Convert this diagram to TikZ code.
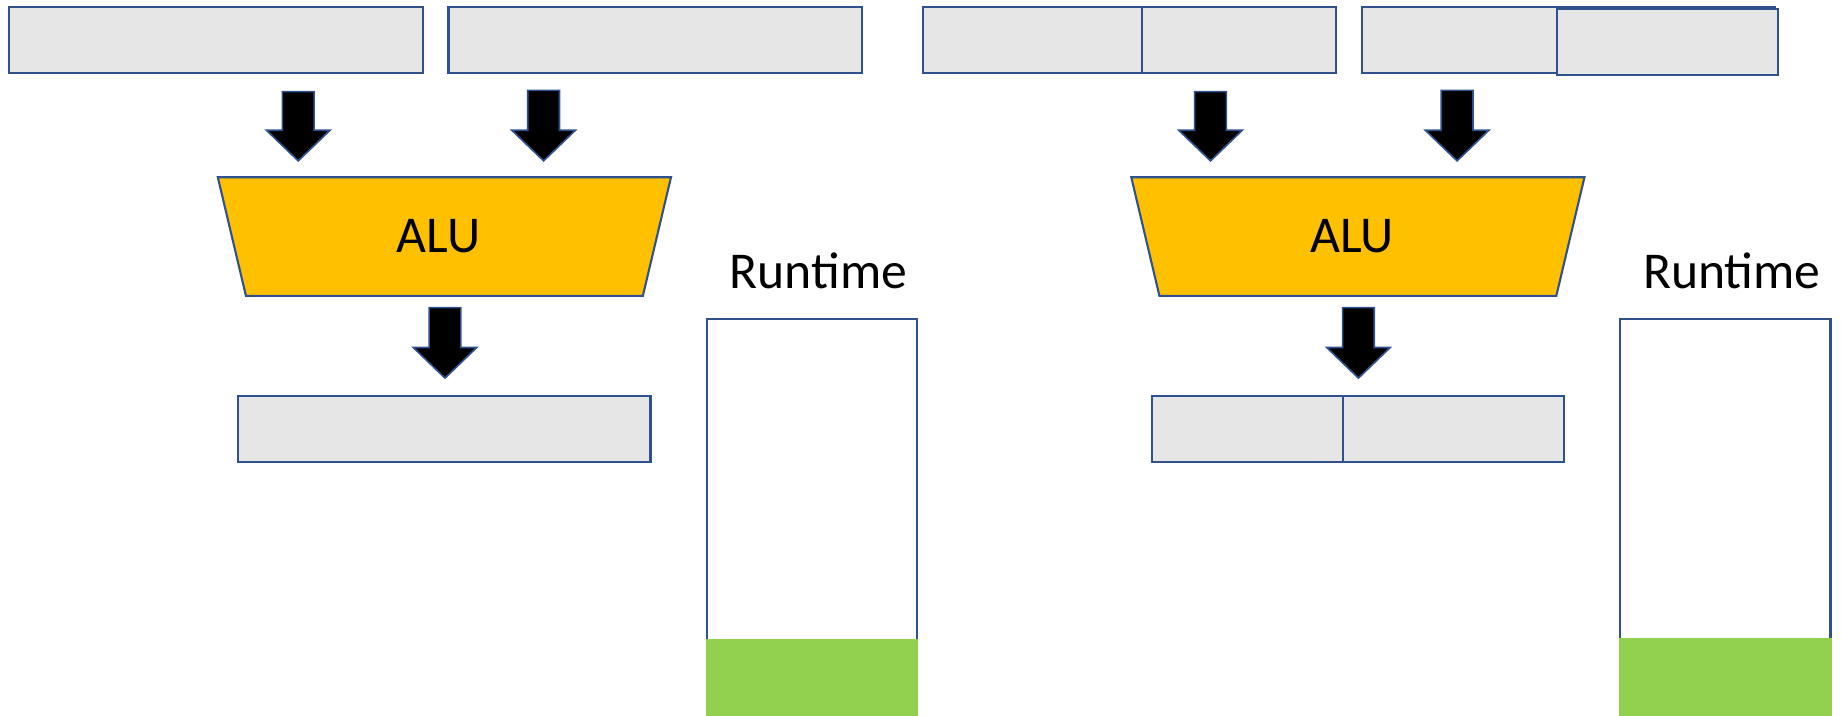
\documentclass[tikz,border=0pt]{standalone}
\usepackage{fontspec}
\setmainfont{Carlito}
\usetikzlibrary{positioning}
\usetikzlibrary{shapes.geometric}
\usetikzlibrary{calc}
\definecolor{regblue}{HTML}{2F528F}
\definecolor{reggray}{HTML}{E7E6E6}
\definecolor{alugold}{HTML}{FFC000}
\definecolor{rtgreen}{HTML}{92D050}
\tikzset{
	reg/.style={draw=regblue, fill=reggray, line width=1.8pt, minimum height=56, inner sep=0, outer sep=0},
	alu/.style={trapezium, shape border rotate=180, trapezium angle=78.6, trapezium stretches=true,
		draw=regblue, fill=alugold, line width=1.8pt, minimum width=389, minimum height=101, inner sep=0,
		font=\fontsize{44}{50}\selectfont},
	rtbox/.style={draw=regblue, line width=1.8pt, minimum width=179, minimum height=345, inner sep=0, outer sep=0},
	rtbar/.style={fill=rtgreen, minimum width=181, minimum height=71, inner sep=0, outer sep=0},
	rtlabel/.style={anchor=base, inner sep=0, font=\fontsize{44}{50}\selectfont},
	fatarrow/.style={draw=regblue, fill=black, line width=1.4pt,
		to path={let \p1=(\tikztostart), \p2=(\tikztotarget) in
			(\x1-13.5pt,\y1) -- (\x1+13.5pt,\y1) -- (\x1+13.5pt,\y2+26pt) -- (\x1+27pt,\y2+26pt)
			-- (\x2,\y2) -- (\x1-27pt,\y2+26pt) -- (\x1-13.5pt,\y2+26pt) -- cycle}}
}
\begin{document}
\begin{tikzpicture}[x=1pt,y=-1pt]
	\useasboundingbox (0,0) rectangle (1568,609);
	% one wide word
	\node [reg, minimum width=352] at (184,34) (1inA) {};
	\node [reg, minimum width=352, right=22 of 1inA] (1inB) {};
	\node [alu] at (378.5,201.5) (1alu) {ALU\kern10pt};
	\node [reg, minimum width=351] at (378.5,365.5) (1out) {};
	\node [rtlabel] at (697,246) (1rtl) {Runtime};
	\node [rtbox] at (691.5,444.5) (1rt) {};
	\node [rtbar] at (691.5,579.5) (1rtg) {};
	\coordinate (1a1) at (254,78); \coordinate (1a1e) at (254,137);
	\coordinate (1a2) at (463,77); \coordinate (1a2e) at (463,137);
	\coordinate (1a3) at (379,262); \coordinate (1a3e) at (379,322);
	\draw [fatarrow] (1a1) to (1a1e); \draw [fatarrow] (1a2) to (1a2e);
	\draw [fatarrow] (1a3) to (1a3e);
	% split word
	\node [reg, minimum width=187] at (879.5,34) (2inA) {};
	\node [reg, minimum width=165, right=0pt of 2inA] (2inA2) {};
	\node [reg, minimum width=352] at (1336,34) (2inB) {};
	\node [reg, minimum width=188] at (1420,36) (2inB2) {};
	\node [alu] at (1156.5,201.5) (2alu) {ALU\kern10pt};
	\node [reg, minimum width=163] at (1062.5,365.5) (2outA) {};
	\node [reg, minimum width=188, right=0pt of 2outA] (2outB) {};
	\node [rtlabel] at (1475,246) (2rtl) {Runtime};
	\node [rtbox] at (1469.5,444.5) (2rt) {};
	\node [rtbar] at (1469.5,579) (2rtg) {};
	\coordinate (2a1) at (1031,78); \coordinate (2a1e) at (1031,137);
	\coordinate (2a2) at (1241,77); \coordinate (2a2e) at (1241,137);
	\coordinate (2a3) at (1157,262); \coordinate (2a3e) at (1157,322);
	\draw [fatarrow] (2a1) to (2a1e); \draw [fatarrow] (2a2) to (2a2e);
	\draw [fatarrow] (2a3) to (2a3e);
\end{tikzpicture}
\end{document}
